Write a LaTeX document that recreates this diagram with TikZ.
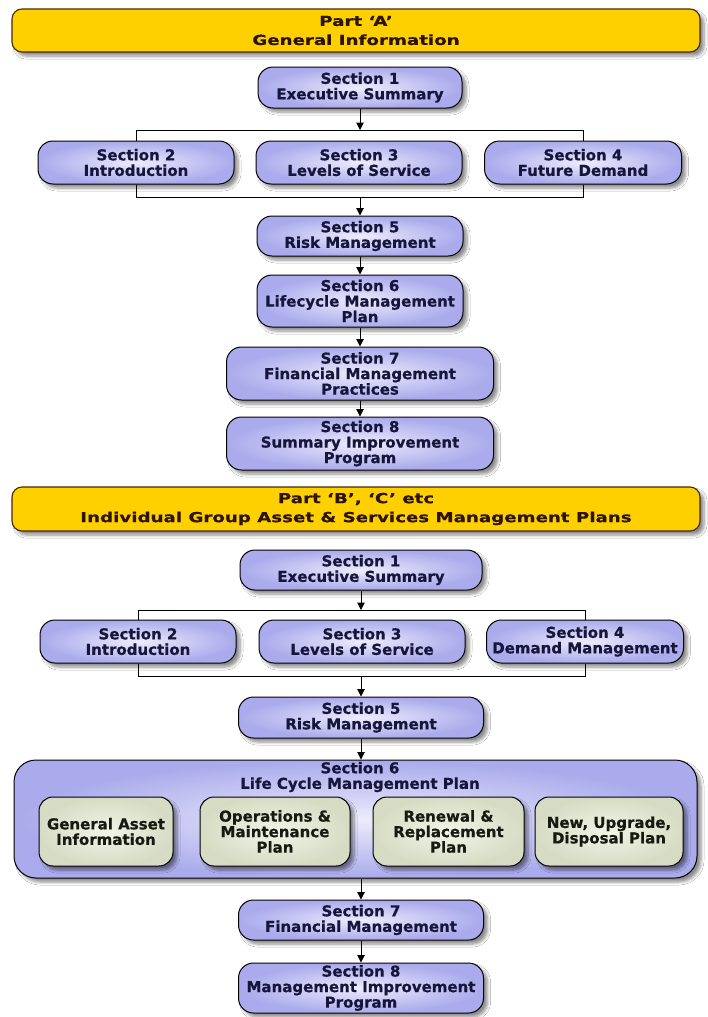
\documentclass[tikz,border=0pt]{standalone}
\usepackage{fontspec}
\setmainfont{DejaVu Sans}[BoldFeatures={FakeBold=0.6}]
\newfontfamily\bannerfont{DejaVu Sans}[FakeStretch=1.32, BoldFeatures={FakeBold=0.6}]
\usetikzlibrary{shadows.blur,arrows.meta,backgrounds}

\definecolor{boxin}{RGB}{236,236,252}
\definecolor{boxout}{RGB}{170,170,236}
\definecolor{planin}{RGB}{242,244,232}
\definecolor{planout}{RGB}{214,220,196}
\definecolor{gold}{RGB}{255,208,0}
\definecolor{goldedge}{RGB}{70,40,10}
\definecolor{navy}{RGB}{22,22,60}
\definecolor{brown}{RGB}{45,20,0}
\definecolor{planink}{RGB}{22,26,16}

\tikzset{
  x=1pt, y=-1pt,
  shade/.style={blur shadow={shadow xshift=4pt, shadow yshift=-4pt,
      shadow opacity=45, shadow blur steps=6, shadow blur radius=3pt}},
  banner/.style={draw=goldedge, line width=1.1pt, fill=gold, rounded corners=10pt,
      shade, align=center, text=brown, inner sep=0pt,
      font=\bannerfont\bfseries\fontsize{13.8}{19}\selectfont},
  secbox/.style={draw=black, line width=1pt, rounded corners=15pt,
      inner color=boxin, outer color=boxout, shade,
      align=center, text=navy, inner sep=0pt,
      font=\bfseries\fontsize{15}{15.5}\selectfont},
  planbox/.style={draw=black, line width=1pt, rounded corners=14pt,
      inner color=planin, outer color=planout, shade,
      align=center, text=planink, inner sep=0pt,
      minimum height=69pt,
      font=\bfseries\fontsize{15}{15.5}\selectfont},
  link/.style={black, line width=1pt},
  arr/.style={link, -{Triangle[length=7.5pt,width=7.5pt]}},
}

\begin{document}
\begin{tikzpicture}
\useasboundingbox (0,0) rectangle (708,1017);

% ---------------- Part A ----------------
\node[banner, minimum width=688pt, minimum height=43pt] (bannerA) at (356,30.5)
  {Part ‘A’\\General Information};

\node[secbox, minimum width=204pt, minimum height=41pt] (a1) at (360,87.5)
  {Section 1\\Executive Summary};
\node[secbox, minimum width=196pt, minimum height=43pt] (a2) at (136,162.5)
  {Section 2\\Introduction};
\node[secbox, minimum width=206pt, minimum height=43pt] (a3) at (359,162.5)
  {Section 3\\Levels of Service};
\node[secbox, minimum width=197pt, minimum height=43pt] (a4) at (583,162.5)
  {Section 4\\Future Demand};
\node[secbox, minimum width=206pt, minimum height=40pt] (a5) at (360,236)
  {Section 5\\Risk Management};
\node[secbox, minimum width=206pt, minimum height=52pt] (a6) at (360,301)
  {Section 6\\Lifecycle Management\\Plan};
\node[secbox, minimum width=267pt, minimum height=53pt] (a7) at (360,373.5)
  {Section 7\\Financial Management\\Practices};
\node[secbox, minimum width=267pt, minimum height=53pt] (a8) at (360,443.5)
  {Section 8\\Summary Improvement\\Program};

\coordinate (aTop) at (360,130);
\coordinate (aTopL) at (136,130);
\coordinate (aTopR) at (583,130);
\coordinate (aBot) at (360,197);
\coordinate (aBotL) at (136,197);
\coordinate (aBotR) at (583,197);

% ---------------- Part B ----------------
\node[banner, minimum width=688pt, minimum height=44pt] (bannerB) at (356,509)
  {Part ‘B’, ‘C’ etc\\Individual Group Asset \& Services Management Plans};

\node[secbox, minimum width=242pt, minimum height=40pt] (b1) at (361,570)
  {Section 1\\Executive Summary};
\node[secbox, minimum width=196pt, minimum height=43pt] (b2) at (138,641.5)
  {Section 2\\Introduction};
\node[secbox, minimum width=206pt, minimum height=43pt] (b3) at (362,641.5)
  {Section 3\\Levels of Service};
\node[secbox, minimum width=197pt, minimum height=43pt] (b4) at (585,641.5)
  {Section 4\\Demand Management};
\node[secbox, minimum width=245pt, minimum height=41pt] (b5) at (361,717.5)
  {Section 5\\Risk Management};

\node[secbox, minimum width=683pt, minimum height=118pt, rounded corners=22pt] (b6) at (355.5,819) {};
\node[text=navy, align=center, inner sep=0pt,
      font=\bfseries\fontsize{15}{15.5}\selectfont] (b6t) at (360,777)
  {Section 6\\Life Cycle Management Plan};
\node[planbox, minimum width=134pt] (c1) at (106,831.5) {General Asset\\Information};
\node[planbox, minimum width=150pt] (c2) at (275,831.5) {Operations \&\\Maintenance\\Plan};
\node[planbox, minimum width=151pt] (c3) at (448.5,831.5) {Renewal \&\\Replacement\\Plan};
\node[planbox, minimum width=148pt] (c4) at (609,831.5) {New, Upgrade,\\Disposal Plan};

\node[secbox, minimum width=245pt, minimum height=40pt] (b7) at (361,920)
  {Section 7\\Financial Management};
\node[secbox, minimum width=245pt, minimum height=50pt] (b8) at (361,988)
  {Section 8\\Management Improvement\\Program};

\coordinate (bTop) at (361,610);
\coordinate (bTopL) at (138,610);
\coordinate (bTopR) at (585,610);
\coordinate (bBot) at (361,676);
\coordinate (bBotL) at (138,676);
\coordinate (bBotR) at (585,676);

% ---------------- connectors (behind the boxes) ----------------
\begin{scope}[on background layer]
  \fill[white] (0,0) rectangle (708,1017);
  % Part A
  \draw[arr] (a1.south) -- (aTop);
  \draw[link] (a2.north) -- (aTopL) -- (aTopR) -- (a4.north);
  \draw[link] (a2.south) -- (aBotL) -- (aBotR) -- (a4.south);
  \draw[arr] (aBot) -- (a5.north);
  \draw[arr] (a5.south) -- (a6.north);
  \draw[arr] (a6.south) -- (a7.north);
  \draw[arr] (a7.south) -- (a8.north);
  % Part B
  \draw[arr] (b1.south) -- (bTop);
  \draw[link] (b2.north) -- (bTopL) -- (bTopR) -- (b4.north);
  \draw[link] (b2.south) -- (bBotL) -- (bBotR) -- (b4.south);
  \draw[arr] (bBot) -- (b5.north);
  \draw[arr] (b5.south) -- (b6.north -| b5.south);
  \draw[arr] (b6.south -| b7.north) -- (b7.north);
  \draw[arr] (b7.south) -- (b8.north);
\end{scope}
\end{tikzpicture}
\end{document}
